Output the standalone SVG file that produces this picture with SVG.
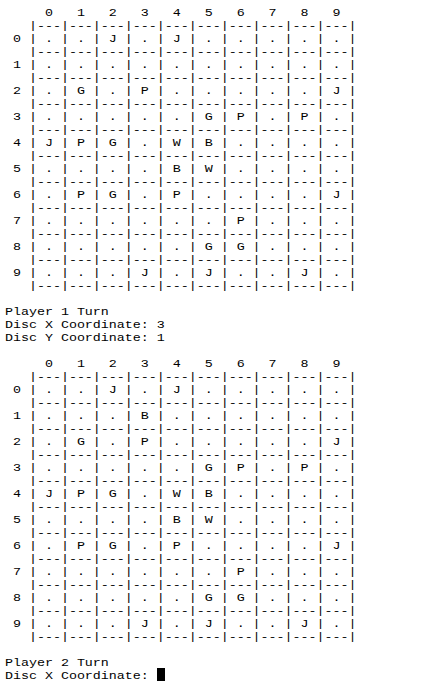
<svg xmlns="http://www.w3.org/2000/svg" width="443" height="683" viewBox="0 0 443 683" xml:space="preserve">
<style>
text{font-family:"Liberation Mono","Courier New",monospace;font-size:11.45px;fill:#000;white-space:pre}
.t{transform:scale(1.1645,1)}
</style>
<rect x="0" y="0" width="443" height="683" fill="#fff"/>
<g id="board1" class="t">
<text x="4.294" y="16"><tspan x="4.294" y="16">     0   1   2   3   4   5   6   7   8   9</tspan><tspan x="4.294" y="29">   |---|---|---|---|---|---|---|---|---|---|</tspan><tspan x="4.294" y="42"> 0 | . | . | J | . | J | . | . | . | . | . |</tspan><tspan x="4.294" y="55">   |---|---|---|---|---|---|---|---|---|---|</tspan><tspan x="4.294" y="68"> 1 | . | . | . | . | . | . | . | . | . | . |</tspan><tspan x="4.294" y="81">   |---|---|---|---|---|---|---|---|---|---|</tspan><tspan x="4.294" y="94"> 2 | . | G | . | P | . | . | . | . | . | J |</tspan><tspan x="4.294" y="107">   |---|---|---|---|---|---|---|---|---|---|</tspan><tspan x="4.294" y="120"> 3 | . | . | . | . | . | G | P | . | P | . |</tspan><tspan x="4.294" y="133">   |---|---|---|---|---|---|---|---|---|---|</tspan><tspan x="4.294" y="146"> 4 | J | P | G | . | W | B | . | . | . | . |</tspan><tspan x="4.294" y="159">   |---|---|---|---|---|---|---|---|---|---|</tspan><tspan x="4.294" y="172"> 5 | . | . | . | . | B | W | . | . | . | . |</tspan><tspan x="4.294" y="185">   |---|---|---|---|---|---|---|---|---|---|</tspan><tspan x="4.294" y="198"> 6 | . | P | G | . | P | . | . | . | . | J |</tspan><tspan x="4.294" y="211">   |---|---|---|---|---|---|---|---|---|---|</tspan><tspan x="4.294" y="224"> 7 | . | . | . | . | . | . | P | . | . | . |</tspan><tspan x="4.294" y="237">   |---|---|---|---|---|---|---|---|---|---|</tspan><tspan x="4.294" y="250"> 8 | . | . | . | . | . | G | G | . | . | . |</tspan><tspan x="4.294" y="263">   |---|---|---|---|---|---|---|---|---|---|</tspan><tspan x="4.294" y="276"> 9 | . | . | . | J | . | J | . | . | J | . |</tspan><tspan x="4.294" y="289">   |---|---|---|---|---|---|---|---|---|---|</tspan></text>
</g>
<g id="status1" class="t">
<text x="4.294" y="315"><tspan x="4.294" y="315">Player 1 Turn</tspan><tspan x="4.294" y="328">Disc X Coordinate: 3</tspan><tspan x="4.294" y="341">Disc Y Coordinate: 1</tspan></text>
</g>
<g id="board2" class="t">
<text x="4.294" y="367"><tspan x="4.294" y="367">     0   1   2   3   4   5   6   7   8   9</tspan><tspan x="4.294" y="380">   |---|---|---|---|---|---|---|---|---|---|</tspan><tspan x="4.294" y="393"> 0 | . | . | J | . | J | . | . | . | . | . |</tspan><tspan x="4.294" y="406">   |---|---|---|---|---|---|---|---|---|---|</tspan><tspan x="4.294" y="419"> 1 | . | . | . | B | . | . | . | . | . | . |</tspan><tspan x="4.294" y="432">   |---|---|---|---|---|---|---|---|---|---|</tspan><tspan x="4.294" y="445"> 2 | . | G | . | P | . | . | . | . | . | J |</tspan><tspan x="4.294" y="458">   |---|---|---|---|---|---|---|---|---|---|</tspan><tspan x="4.294" y="471"> 3 | . | . | . | . | . | G | P | . | P | . |</tspan><tspan x="4.294" y="484">   |---|---|---|---|---|---|---|---|---|---|</tspan><tspan x="4.294" y="497"> 4 | J | P | G | . | W | B | . | . | . | . |</tspan><tspan x="4.294" y="510">   |---|---|---|---|---|---|---|---|---|---|</tspan><tspan x="4.294" y="523"> 5 | . | . | . | . | B | W | . | . | . | . |</tspan><tspan x="4.294" y="536">   |---|---|---|---|---|---|---|---|---|---|</tspan><tspan x="4.294" y="549"> 6 | . | P | G | . | P | . | . | . | . | J |</tspan><tspan x="4.294" y="562">   |---|---|---|---|---|---|---|---|---|---|</tspan><tspan x="4.294" y="575"> 7 | . | . | . | . | . | . | P | . | . | . |</tspan><tspan x="4.294" y="588">   |---|---|---|---|---|---|---|---|---|---|</tspan><tspan x="4.294" y="601"> 8 | . | . | . | . | . | G | G | . | . | . |</tspan><tspan x="4.294" y="614">   |---|---|---|---|---|---|---|---|---|---|</tspan><tspan x="4.294" y="627"> 9 | . | . | . | J | . | J | . | . | J | . |</tspan><tspan x="4.294" y="640">   |---|---|---|---|---|---|---|---|---|---|</tspan></text>
</g>
<g id="status2">
<g class="t"><text x="4.294" y="666"><tspan x="4.294" y="666">Player 2 Turn</tspan><tspan x="4.294" y="679">Disc X Coordinate:</tspan></text></g>
<rect id="cursor" x="157" y="668" width="8" height="13" fill="#000"/>
</g>
</svg>
